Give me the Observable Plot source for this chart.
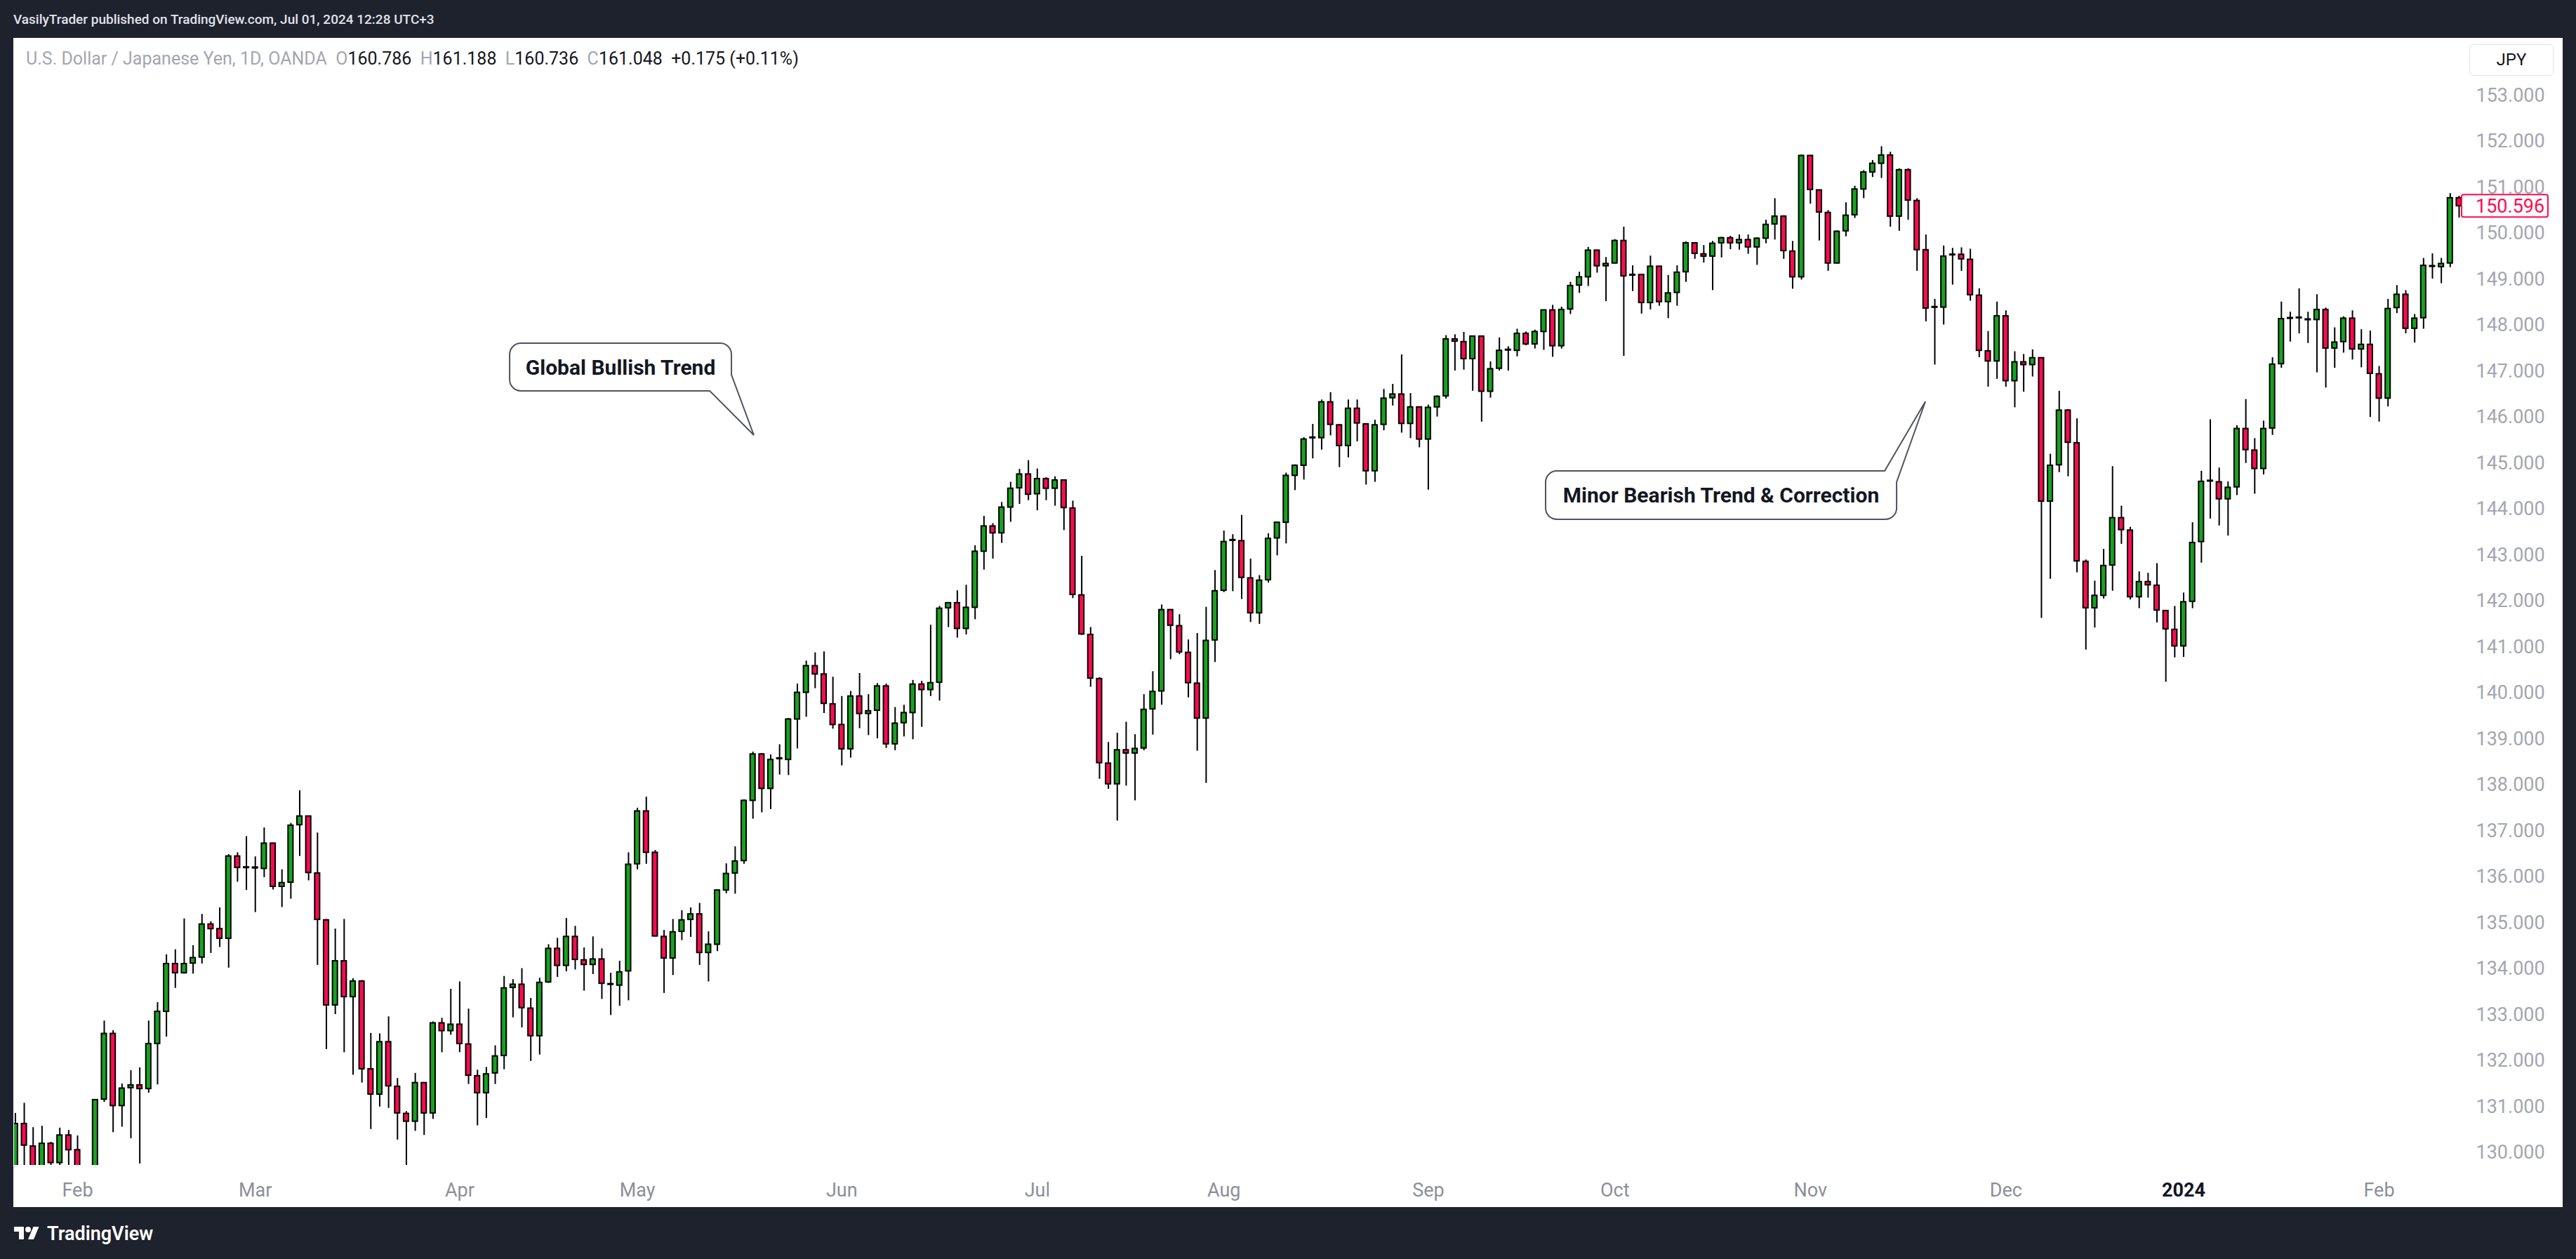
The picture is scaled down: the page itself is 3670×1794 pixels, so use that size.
<!DOCTYPE html>
<html>
<head>
<meta charset="utf-8">
<script src="https://cdn.jsdelivr.net/npm/d3@7"></script>
<script src="https://cdn.jsdelivr.net/npm/@observablehq/plot@0.6"></script>
<style>
html, body { margin: 0; padding: 0; background: #1e222d; }
body { width: 3670px; height: 1794px; position: relative; overflow: hidden; font-family: Roboto, "Noto Sans", sans-serif; }
#topbar { position: absolute; left: 19px; top: 0; height: 54px; line-height: 56px; color: #e0e3eb; font-size: 19px; font-weight: 500; white-space: nowrap; }
#chart { position: absolute; left: 19px; top: 54px; width: 3632px; height: 1666px; background: #fff; overflow: hidden; }
#chart svg { position: absolute; left: 0; top: 0; }
#legend { position: absolute; left: 18px; top: 14px; height: 32px; line-height: 32px; font-size: 25px; white-space: nowrap; color: #131722; }
#legend .g { color: #a3a6af; }
#jpy { position: absolute; left: 3499px; top: 9px; width: 120px; height: 45px; border: 1px solid #e0e3eb; border-radius: 6px; box-sizing: border-box; text-align: center; line-height: 43px; font-size: 24px; color: #131722; background: #fff; }
#footer { position: absolute; left: 19px; top: 1740px; height: 36px; display: flex; align-items: center; color: #fff; }
#footer span { font-size: 27px; font-weight: 600; margin-left: 10px; }
</style>
</head>
<body>
<div id="topbar">VasilyTrader published on TradingView.com, Jul 01, 2024 12:28 UTC+3</div>
<div id="chart">
  <div id="plot"></div>
  <div id="legend"><span class="g">U.S. Dollar / Japanese Yen, 1D, OANDA</span>&nbsp; <span class="g">O</span>160.786&nbsp; <span class="g">H</span>161.188&nbsp; <span class="g">L</span>160.736&nbsp; <span class="g">C</span>161.048&nbsp; +0.175 (+0.11%)</div>
  <div id="jpy">JPY</div>
</div>
<div id="footer">
  <svg width="38" height="28" viewBox="0 0 36 28"><path d="M14 22H7V11H0V4h14v18z" fill="#fff"/><circle cx="20" cy="8" r="4" fill="#fff"/><path d="M28 22h-8l7.5-18h8z" fill="#fff"/></svg>
  <span>TradingView</span>
</div>
<script>
// ---- Data: daily USD/JPY candles (index 0 = Jan 23 2023 ... 275 = Feb 14 2024) ----
const open = [
129.55,130.63,130.14,129.55,130.20,129.78,130.38,130.06,128.95,128.60,
131.16,132.59,131.02,131.41,131.47,131.39,132.37,133.07,134.11,133.91,
134.12,134.25,134.97,134.87,134.66,136.45,136.20,136.21,136.18,136.73,
135.79,135.88,137.13,137.32,136.08,135.06,133.21,134.17,133.39,133.73,
131.82,131.27,132.41,131.44,130.85,130.68,131.52,130.86,132.82,132.65,
132.79,132.36,131.67,131.30,131.73,132.11,133.59,133.66,133.14,132.54,
133.71,134.44,134.07,134.70,134.19,134.09,134.21,133.66,133.64,133.95,
136.28,137.43,136.53,134.70,134.23,134.81,135.07,135.19,134.35,134.53,
135.71,136.08,136.35,137.66,138.67,137.92,138.57,138.55,139.43,140.01,
140.59,140.41,139.76,139.31,138.78,139.93,139.55,139.62,140.15,138.89,
139.35,139.57,140.19,140.07,140.23,141.85,141.96,141.40,141.86,143.08,
143.63,143.48,144.04,144.46,144.76,144.33,144.66,144.45,144.63,144.02,
142.13,141.27,140.31,138.47,138.02,138.76,138.69,138.80,139.65,140.04,
141.81,141.46,140.88,140.21,139.45,141.15,142.23,143.32,143.31,142.50,
141.74,142.46,143.37,143.71,144.73,144.95,145.55,145.55,146.33,145.83,
145.38,146.19,145.85,144.83,145.84,146.42,146.50,145.86,146.22,145.52,
146.22,146.46,147.70,147.64,147.27,147.76,146.56,147.06,147.46,147.45,
147.82,147.59,147.86,148.33,147.55,148.35,148.87,149.05,149.63,149.29,
149.35,149.84,149.09,149.10,148.49,149.28,148.51,148.71,149.16,149.79,
149.55,149.50,149.79,149.90,149.79,149.86,149.70,149.89,150.20,150.37,
149.61,149.05,151.69,150.94,150.45,149.35,150.05,150.40,150.96,151.33,
151.52,151.70,150.37,151.38,150.71,149.64,148.39,148.39,149.53,149.54,
149.43,148.65,147.44,147.22,148.20,146.79,147.20,147.14,147.29,144.17,
144.96,146.15,145.44,142.86,141.85,142.12,142.78,143.81,143.54,142.09,
142.42,142.34,141.79,141.38,141.02,141.99,143.29,144.61,144.59,144.22,
144.48,145.75,145.28,144.88,145.76,147.16,148.15,148.16,148.13,148.12,
148.34,147.50,147.64,148.15,147.48,147.58,146.94,146.41,148.38,148.67,
147.93,148.16,149.29,149.27,149.35,150.77];
const high = [
130.86,131.08,130.55,130.58,130.23,130.54,130.49,130.37,129.25,131.16,
132.87,132.66,131.50,131.79,131.85,132.87,133.27,134.31,134.42,135.09,
134.51,135.19,135.03,135.33,136.49,136.53,136.88,136.44,137.07,136.74,
136.16,137.17,137.88,137.33,136.96,135.08,134.87,135.08,133.79,133.75,
132.60,132.59,132.96,131.62,130.90,131.73,131.53,132.85,132.93,133.56,
133.72,133.13,131.80,131.86,132.33,133.84,133.77,134.01,133.36,133.80,
134.53,134.67,135.10,134.93,134.46,134.70,134.44,133.91,134.17,136.53,
137.50,137.74,136.58,134.84,135.08,135.27,135.33,135.43,134.81,135.72,
136.29,136.66,137.68,138.72,138.69,138.66,138.88,139.45,140.20,140.70,
140.88,140.90,140.35,139.93,140.04,140.43,139.97,140.21,140.20,139.69,
139.74,140.28,140.26,141.48,141.89,141.97,142.23,142.35,143.21,143.85,
143.69,144.15,144.59,144.87,145.06,144.88,144.69,144.71,144.64,144.18,
142.98,141.43,140.34,138.93,139.13,139.37,139.10,139.97,140.47,141.92,
141.82,141.71,141.16,141.30,141.87,142.67,143.53,143.45,143.87,142.92,
142.56,143.47,143.72,144.79,144.97,145.56,145.85,146.38,146.54,145.85,
146.38,146.38,145.86,145.94,146.61,146.72,147.36,146.52,146.23,146.27,
146.47,147.78,147.80,147.85,147.77,147.77,147.21,147.73,147.54,147.92,
147.86,147.90,148.34,148.44,148.40,148.94,149.16,149.70,149.64,149.48,
149.87,150.14,149.30,149.11,149.51,149.29,149.09,149.30,149.82,149.80,
149.74,149.83,149.92,149.94,149.97,149.97,149.91,150.29,150.76,150.39,
149.83,151.71,151.70,150.95,150.50,150.06,150.67,151.03,151.37,151.59,
151.89,151.77,151.41,151.41,150.76,149.97,148.57,149.73,149.68,149.69,
149.66,148.80,147.87,148.51,148.32,147.43,147.37,147.47,147.30,145.20,
146.57,146.17,145.97,142.90,142.44,143.13,144.93,144.07,143.61,142.64,
142.61,142.82,141.80,141.89,142.18,143.71,144.83,145.95,144.90,144.60,
145.82,146.39,145.54,145.92,147.30,148.51,148.29,148.80,148.29,148.67,
148.38,147.95,148.19,148.32,147.91,147.88,147.11,148.57,148.87,148.76,
148.24,149.46,149.56,149.46,150.87,150.81];
const low = [
129.45,129.68,129.40,129.45,129.55,129.55,129.72,128.60,128.10,128.50,
131.10,130.44,130.56,130.31,129.76,131.30,131.48,132.52,133.58,133.89,
133.89,134.11,134.34,134.47,134.02,135.89,135.71,135.23,135.99,135.72,
135.34,135.52,136.45,135.92,134.08,132.25,133.01,132.18,131.69,131.52,
130.51,131.00,130.97,130.28,129.62,130.47,130.38,130.73,132.18,132.56,
132.18,131.49,130.59,130.75,131.49,131.81,132.94,132.72,131.99,132.13,
133.69,133.82,133.94,133.98,133.52,133.88,133.34,132.99,133.19,133.31,
136.16,136.28,134.70,133.47,133.86,134.62,134.69,134.08,133.72,134.38,
135.64,135.63,136.28,137.26,137.40,137.47,138.22,138.21,138.79,139.48,
140.10,139.56,139.22,138.42,138.59,139.23,139.08,139.01,138.80,138.75,
139.05,138.99,139.26,139.93,139.83,141.43,141.20,141.27,141.60,142.68,
142.92,143.26,143.72,144.11,144.19,143.97,144.19,144.07,143.54,142.06,
141.26,140.13,138.13,137.91,137.22,137.98,137.66,138.75,139.09,139.74,
140.73,140.84,139.90,138.74,138.04,140.67,142.19,142.21,142.04,141.54,
141.50,142.40,142.99,143.25,144.41,144.64,145.10,145.29,145.60,144.91,
145.12,145.47,144.53,144.59,145.71,146.25,145.66,145.54,145.34,144.42,
146.01,146.40,147.01,147.03,146.57,145.90,146.42,147.01,147.01,147.32,
147.56,147.49,147.46,147.31,147.49,148.24,148.70,148.85,149.14,148.52,
149.34,147.33,148.74,148.25,148.34,148.42,148.15,148.42,148.94,149.44,
149.36,148.76,149.47,149.65,149.64,149.55,149.31,149.78,149.86,149.44,
148.79,148.99,150.64,149.84,149.18,149.34,149.93,150.33,150.76,151.22,
151.20,150.14,150.05,150.29,149.18,148.08,147.14,148.01,148.88,149.18,
148.53,147.30,146.66,146.83,146.66,146.21,146.55,146.88,141.63,142.48,
144.80,144.71,142.62,140.94,141.42,142.05,142.22,143.24,142.03,141.84,
142.07,141.53,140.24,140.77,140.78,141.84,142.83,143.79,143.64,143.42,
144.30,145.00,144.33,144.75,145.61,147.07,147.64,147.82,147.61,146.97,
146.64,147.07,147.40,147.25,147.08,146.00,145.90,146.23,148.26,147.82,
147.62,147.92,149.01,148.91,149.26,150.34];
const close = [
130.63,130.16,129.50,130.20,129.78,130.38,130.06,128.95,128.60,131.15,
132.59,131.02,131.40,131.47,131.39,132.37,133.07,134.11,133.91,134.11,
134.24,134.97,134.87,134.66,136.45,136.20,136.21,136.19,136.73,135.79,
135.87,137.12,137.32,136.09,135.07,133.21,134.17,133.39,133.73,131.82,
131.27,132.41,131.45,130.86,130.68,131.52,130.86,132.82,132.65,132.79,
132.37,131.68,131.30,131.71,132.10,133.58,133.66,133.15,132.54,133.70,
134.44,134.07,134.70,134.20,134.09,134.21,133.68,133.67,133.93,136.27,
137.43,136.53,134.71,134.23,134.80,135.06,135.19,134.35,134.53,135.71,
136.07,136.34,137.66,138.67,137.92,138.55,138.58,139.43,140.01,140.59,
140.41,139.77,139.31,138.78,139.93,139.55,139.61,140.15,138.89,139.34,
139.57,140.19,140.07,140.22,141.84,141.96,141.40,141.86,143.08,143.63,
143.48,144.04,144.45,144.76,144.32,144.66,144.45,144.63,144.03,142.14,
141.28,140.32,138.48,138.02,138.76,138.69,138.79,139.64,140.03,141.81,
141.47,140.89,140.22,139.45,141.14,142.22,143.29,143.33,142.51,141.74,
142.45,143.36,143.71,144.73,144.95,145.52,145.56,146.33,145.84,145.38,
146.19,145.87,144.83,145.83,146.41,146.50,145.86,146.22,145.52,146.21,
146.45,147.70,147.65,147.27,147.76,146.56,147.05,147.45,147.47,147.82,
147.59,147.86,148.33,147.55,148.34,148.86,149.05,149.63,149.29,149.34,
149.84,149.07,149.10,148.49,149.28,148.51,148.70,149.15,149.79,149.56,
149.50,149.78,149.90,149.79,149.86,149.70,149.89,150.19,150.37,149.62,
149.05,151.69,150.95,150.46,149.35,150.04,150.39,150.96,151.33,151.52,
151.70,150.37,151.38,150.72,149.64,148.37,148.40,149.50,149.54,149.44,
148.66,147.45,147.22,148.20,146.79,147.20,147.14,147.29,144.17,144.95,
146.15,145.45,142.87,141.85,142.12,142.77,143.81,143.55,142.09,142.42,
142.35,141.80,141.39,141.02,141.98,143.27,144.60,144.62,144.22,144.47,
145.75,145.29,144.88,145.75,147.15,148.14,148.16,148.17,148.12,148.34,
147.50,147.63,148.15,147.48,147.58,146.95,146.41,148.36,148.67,147.93,
148.15,149.30,149.28,149.34,150.77,150.596];

// Time-axis labels (candle index of first trading day of each month)
const monthIndex = [7, 27, 50, 70, 93, 115, 136, 159, 180, 202, 224, 266];
const monthLabel = ["Feb","Mar","Apr","May","Jun","Jul","Aug","Sep","Oct","Nov","Dec","Feb"];
const yearIndex = [244];
const yearLabel = ["2024"];

// Price-axis ticks
const priceTicks = d3.range(130, 154);

// Callout annotations (anchored in data space: candle index, price)
const calloutText = ["Global Bullish Trend", "Minor Bearish Trend & Correction"];
const calloutLeft = [55.66, 172.24];
const calloutRight = [80.62, 211.74];
const calloutTop = [147.606, 144.827];
const calloutBottom = [146.568, 143.774];
const calloutTipX = [83.14, 214.98];
const calloutTipY = [145.606, 146.339];

// ---- Styles ----
const green = "#16a31e", red = "#ff0a50";
const bodyHalf = 0.28;

const candles = d3.range(open.length).map(i => {
  const o = open[i], c = close[i];
  let hi = Math.max(o, c), lo = Math.min(o, c);
  if (hi - lo < 0.016) { const m = (hi + lo) / 2; hi = m + 0.008; lo = m - 0.008; }
  return {i, h: high[i], l: low[i], hi, lo, fill: c >= o ? green : red};
});

function calloutMark(k) {
  return (index, scales) => {
    const sx = scales.x, sy = scales.y;
    const x1 = sx(calloutLeft[k]), x2 = sx(calloutRight[k]);
    const yt = sy(calloutTop[k]), yb = sy(calloutBottom[k]);
    const tx = sx(calloutTipX[k]), ty = sy(calloutTipY[k]);
    const r = 16;
    let d;
    if (ty > yb) {
      d = `M${x1 + r},${yt} H${x2 - r} A${r},${r} 0 0 1 ${x2},${yt + r} V${yb - 23} L${tx},${ty} L${x2 - 31},${yb} H${x1 + r} A${r},${r} 0 0 1 ${x1},${yb - r} V${yt + r} A${r},${r} 0 0 1 ${x1 + r},${yt} Z`;
    } else {
      d = `M${x1 + r},${yt} H${x2 - 17} L${tx},${ty} L${x2},${yt + 16} V${yb - r} A${r},${r} 0 0 1 ${x2 - r},${yb} H${x1 + r} A${r},${r} 0 0 1 ${x1},${yb - r} V${yt + r} A${r},${r} 0 0 1 ${x1 + r},${yt} Z`;
    }
    const g = d3.create("svg:g");
    g.append("path").attr("d", d).attr("fill", "#fff").attr("stroke", "#50535e").attr("stroke-width", 2);
    g.append("text").attr("x", (x1 + x2) / 2).attr("y", (yt + yb) / 2).attr("dy", "0.36em")
      .attr("text-anchor", "middle").attr("font-weight", 700).attr("font-size", 30)
      .attr("fill", "#131722").text(calloutText[k]);
    return g.node();
  };
}

function lastPriceMark(index, scales, values, dims) {
  const last = close[close.length - 1];
  const y = scales.y(last);
  const x0 = dims.width - dims.marginRight;
  const g = d3.create("svg:g");
  g.append("rect").attr("x", x0 + 1).attr("y", y - 16).attr("width", 123).attr("height", 32)
    .attr("rx", 3).attr("fill", "#fff").attr("stroke", red).attr("stroke-width", 2);
  g.append("text").attr("x", x0 + 21).attr("y", y).attr("dy", "0.36em").attr("fill", red)
    .attr("text-anchor", "start").attr("font-size", 27).text(last.toFixed(3));
  return g.node();
}

const plot = Plot.plot({
  width: 3632,
  height: 1666,
  marginLeft: 1,
  marginRight: 145,
  marginTop: 0,
  marginBottom: 60,
  x: {type: "linear", domain: [-0.1106, 275.24]},
  y: {type: "linear", domain: [129.728, 154.247]},
  color: {type: "identity"},
  style: {fontFamily: "Roboto, 'Noto Sans', sans-serif", fontSize: "27px", background: "#fff", overflow: "visible"},
  marks: [
    Plot.axisY({anchor: "right", ticks: priceTicks, tickFormat: d => d.toFixed(3), tickSize: 0, tickPadding: 21, color: "#a3a6af", label: null}),
    Plot.axisX({ticks: monthIndex, tickFormat: (d) => monthLabel[monthIndex.indexOf(d)], tickSize: 0, tickPadding: 25, color: "#8c8f99", label: null}),
    Plot.axisX({ticks: yearIndex, tickFormat: (d) => yearLabel[yearIndex.indexOf(d)], tickSize: 0, tickPadding: 25, color: "#131722", fontWeight: "bold", label: null}),
    Plot.ruleX(candles, {x: "i", y1: "l", y2: "h", stroke: "#000", strokeWidth: 2, clip: true}),
    Plot.rect(candles, {x1: d => d.i - bodyHalf, x2: d => d.i + bodyHalf, y1: "lo", y2: "hi", fill: "fill", stroke: "#000", strokeWidth: 2, clip: true}),
    calloutMark(0),
    calloutMark(1),
    lastPriceMark
  ]
});
document.getElementById("plot").appendChild(plot);
</script>
</body>
</html>
